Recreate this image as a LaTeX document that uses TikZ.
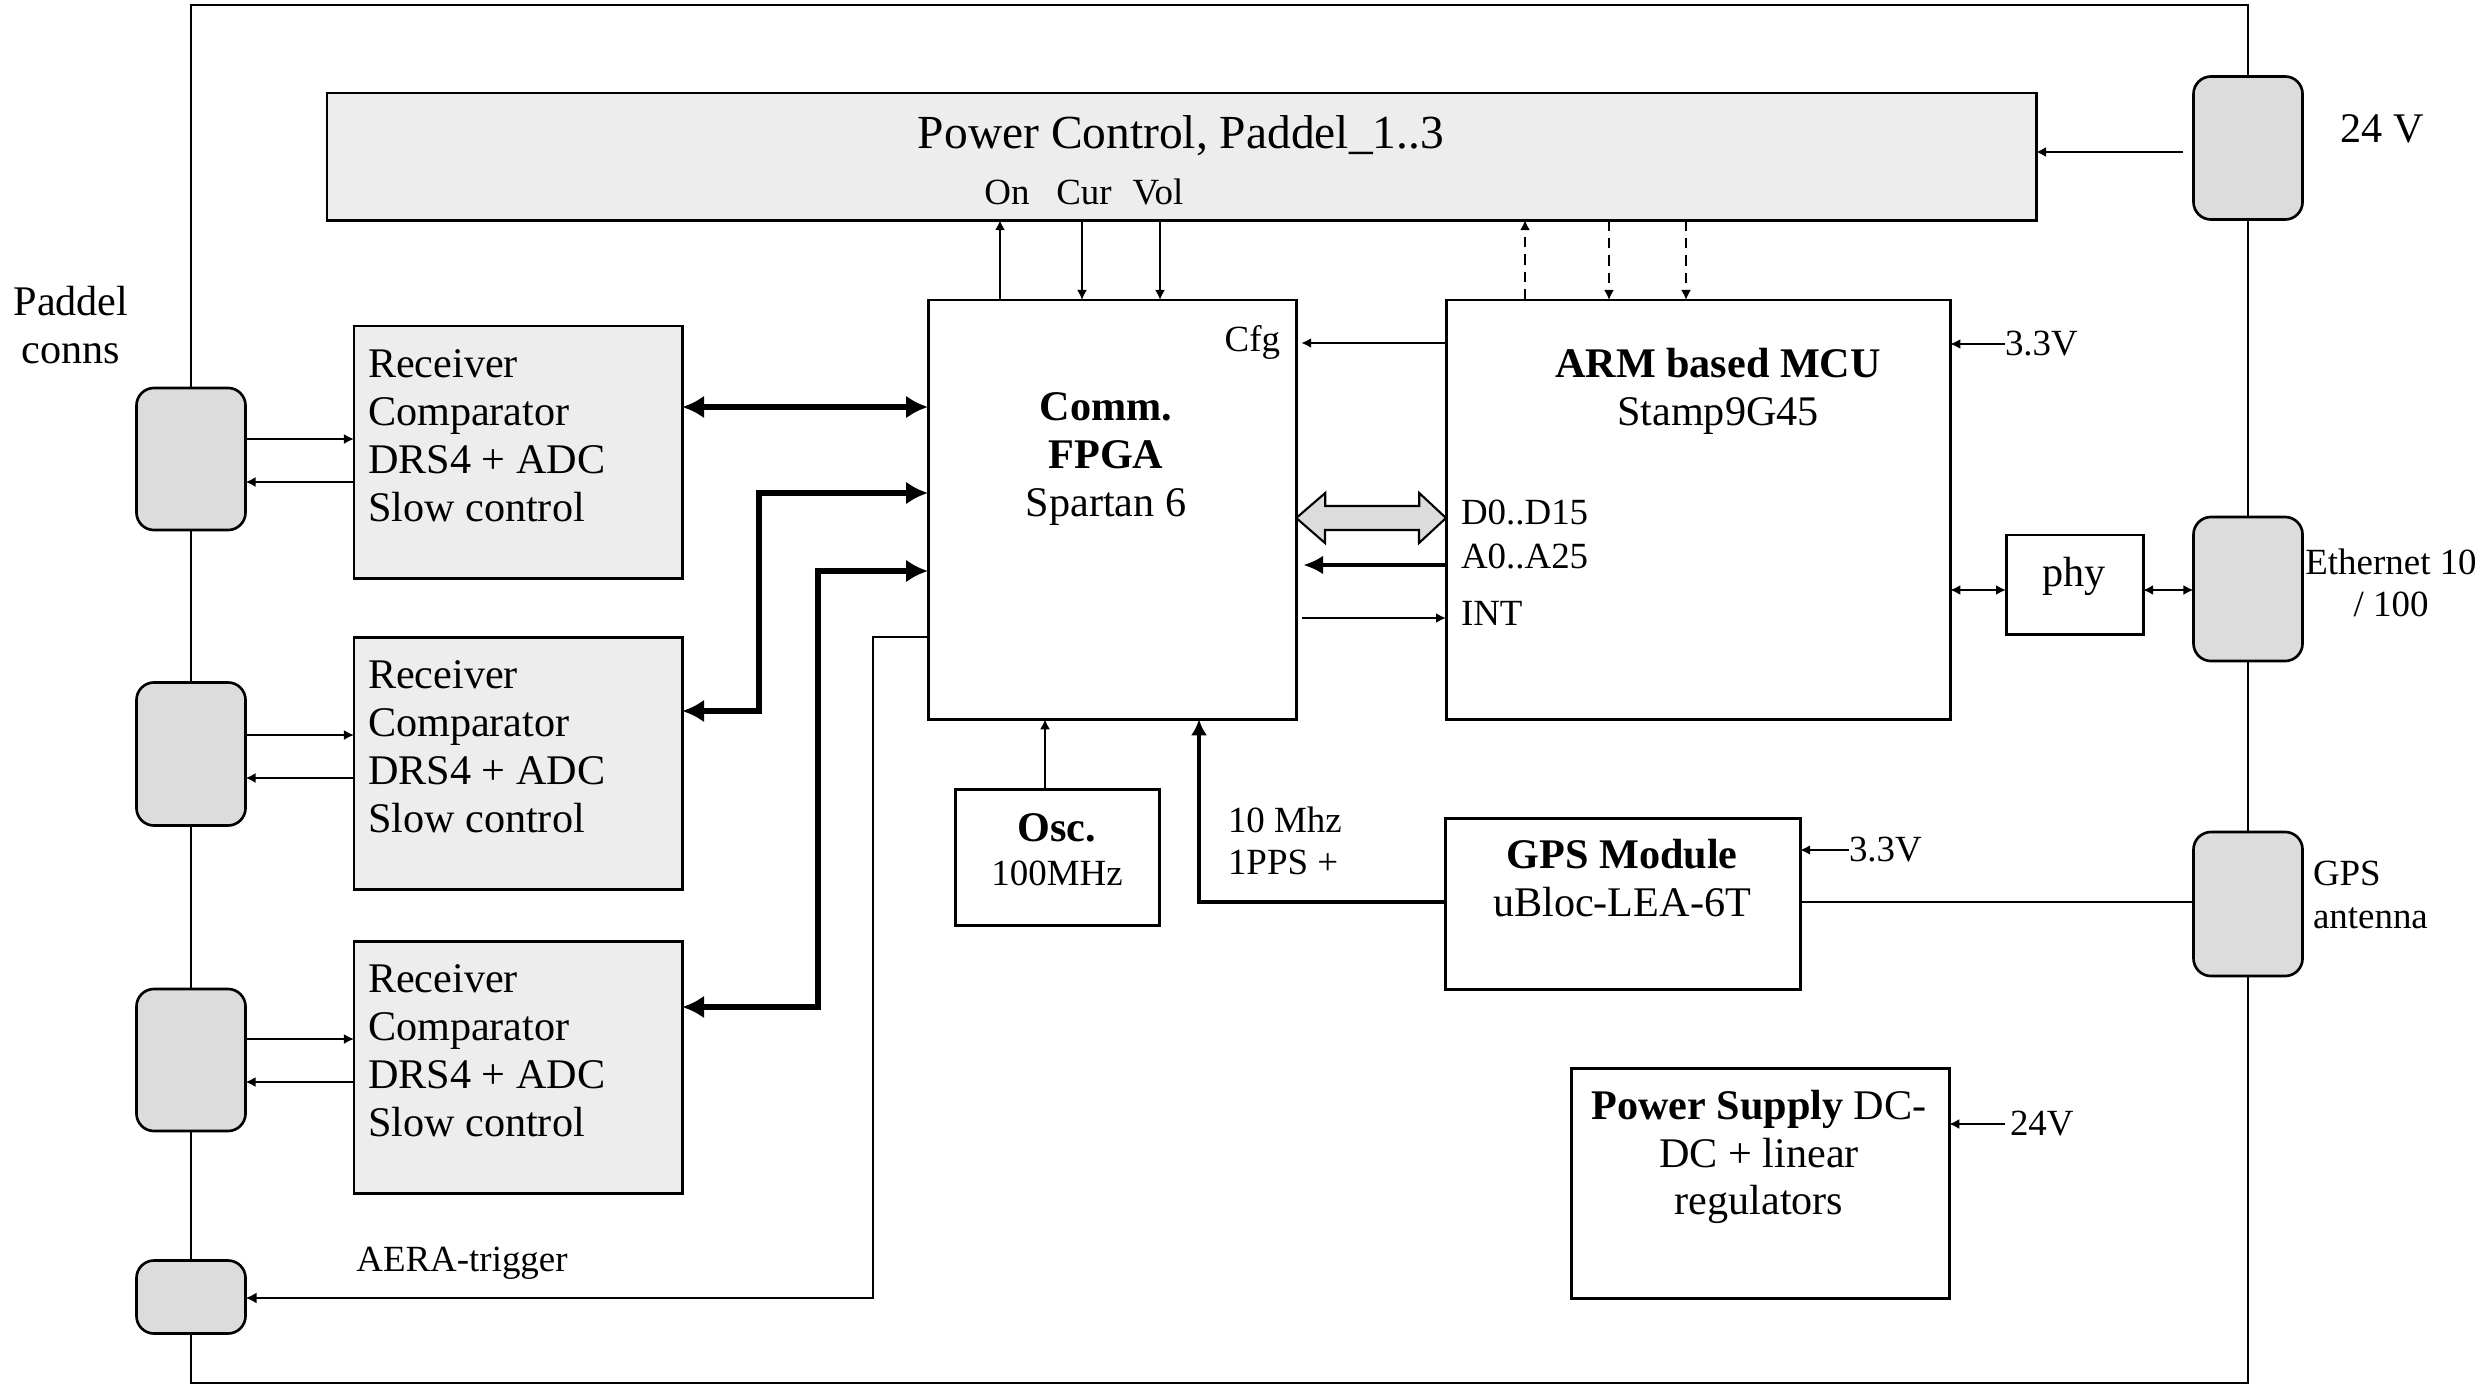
\documentclass[tikz,border=0pt]{standalone}
\usepackage{fontspec}
\setmainfont{Liberation Serif}
\usetikzlibrary{arrows.meta}
\definecolor{boxgrey}{HTML}{EDEDED}
\definecolor{conngrey}{HTML}{DCDCDC}

\begin{document}
\begin{tikzpicture}[x=0.01cm, y=-0.01cm,
  every node/.style={inner sep=0pt, outer sep=0pt},
  box/.style={draw, line width=0.85pt, anchor=north west},
  greybox/.style={box, fill=boxgrey},
  conn/.style={draw, line width=0.75pt, fill=conngrey, rounded corners=5pt, minimum width=1.09cm},
  txt/.style={font=\fontsize{12}{13.6}\selectfont},
  lbl/.style={font=\fontsize{10.5}{12}\selectfont},
  sig/.style={-{Latex[length=1mm,width=1mm]}, line width=0.6pt},
  sigboth/.style={{Latex[length=1mm,width=1mm]}-{Latex[length=1mm,width=1mm]}, line width=0.6pt},
  bus/.style={{Latex[length=2.2mm,width=2.3mm]}-{Latex[length=2.2mm,width=2.3mm]}, line width=1.7pt},
  addr/.style={-{Latex[length=2mm,width=1.9mm]}, line width=1.3pt},
  pps/.style={-{Latex[length=1.6mm,width=1.6mm]}, line width=1.4pt},
  trig/.style={-{Latex[length=1.1mm,width=1.1mm]}, line width=0.8pt},
  wire/.style={line width=0.6pt}]
  \useasboundingbox (0,0) rectangle (2479,1385);

  % Board outline
  \draw[line width=0.6pt] (191,5) rectangle (2248,1383);

  % Power control
  \node[greybox, minimum width=17.08cm, minimum height=1.27cm] (pctrl) at (327,93) {};
  \node[font=\fontsize{13.5}{15}\selectfont] (pctrlT) at (1181,136) {Power Control, Paddel\_1..3};
  \node[lbl] (on) at (1007,192) {On};
  \node[lbl] (cur) at (1084,192) {Cur};
  \node[lbl] (vol) at (1158,192) {Vol};

  % Receiver boards
  \node[greybox, minimum width=3.28cm, minimum height=2.52cm] (rc1) at (354,326) {};
  \node[greybox, minimum width=3.28cm, minimum height=2.52cm] (rc2) at (354,637) {};
  \node[greybox, minimum width=3.28cm, minimum height=2.52cm] (rc3) at (354,941) {};
  \node[txt, anchor=north west, align=left] (rc1T) at (368,350) {Receiver\\Comparator\\DRS4 + ADC\\Slow control};
  \node[txt, anchor=north west, align=left] (rc2T) at (368,661) {Receiver\\Comparator\\DRS4 + ADC\\Slow control};
  \node[txt, anchor=north west, align=left] (rc3T) at (368,965) {Receiver\\Comparator\\DRS4 + ADC\\Slow control};

  % FPGA and MCU
  \node[box, minimum width=3.68cm, minimum height=4.19cm] (fpga) at (928,300) {};
  \node[txt, align=center] (fpgaT) at (1106,459) {\textbf{Comm.}\\\textbf{FPGA}\\Spartan 6};
  \node[lbl, anchor=east] (cfg) at (1280,342) {Cfg};
  \node[box, minimum width=5.04cm, minimum height=4.19cm] (mcu) at (1446,300) {};
  \node[txt, align=center] (mcuT) at (1718,391) {\textbf{ARM based MCU}\\Stamp9G45};
  \node[lbl, anchor=west] (dbusT) at (1461,512) {D0..D15};
  \node[lbl, anchor=west] (abusT) at (1461,556) {A0..A25};
  \node[lbl, anchor=west] (intT) at (1461,613) {INT};
  \node[lbl, anchor=west] (v33m) at (2005,344) {3.3V};
  \node[box, minimum width=1.37cm, minimum height=0.99cm] (phy) at (2006,535) {};
  \node[txt] (phyT) at (2074,576) {phy};

  % Connectors on the right
  \node[conn, minimum height=1.43cm] (c24) at (2248,148) {};
  \node[txt] (c24T) at (2382,129) {24 V};
  \node[conn, minimum height=1.44cm] (ceth) at (2248,589) {};
  \node[lbl, align=center] (cethT) at (2391,583) {Ethernet 10\\/ 100};
  \node[conn, minimum height=1.44cm] (cgps) at (2248,904) {};
  \node[lbl, anchor=west, align=left] (cgpsT) at (2313,895) {GPS\\antenna};

  % Connectors on the left
  \node[txt, align=center] (paddelT) at (71,325) {Paddel\\conns};
  \node[conn, minimum height=1.42cm] (cp1) at (191,459) {};
  \node[conn, minimum height=1.43cm] (cp2) at (191,754) {};
  \node[conn, minimum height=1.42cm] (cp3) at (191,1060) {};
  \node[conn, minimum height=0.73cm] (caera) at (191,1297) {};
  \node[lbl] (aeraT) at (462,1263) {AERA-trigger};

  % Clock, GPS and supply
  \node[box, minimum width=2.04cm, minimum height=1.36cm] (osc) at (955,789) {};
  \node[txt, align=center, font=\fontsize{12}{12.6}\selectfont] (oscT) at (1057,850) {\textbf{Osc.}\\{\fontsize{10.5}{12}\selectfont 100MHz}};
  \node[box, minimum width=3.55cm, minimum height=1.71cm] (gps) at (1445,818) {};
  \node[txt, align=center] (gpsT) at (1622,878) {\textbf{GPS Module}\\uBloc-LEA-6T};
  \node[lbl, anchor=west] (v33g) at (1849,850) {3.3V};
  \node[lbl, anchor=west, align=left] (ppsT) at (1228,841) {10 Mhz\\1PPS +};
  \node[box, minimum width=3.78cm, minimum height=2.30cm] (psu) at (1571,1068) {};
  \node[txt, align=center] (psuT) at (1759,1157) {\textbf{Power Supply} DC-\\DC + linear\\regulators};
  \node[lbl, anchor=west] (v24p) at (2010,1124) {24V};

  % Power control links
  \draw[sig, shorten <=1mm] (c24.west |- 0,152) -- (pctrl.east |- 0,152);
  \draw[sig] (fpga.north -| 1000,0) -- (pctrl.south -| 1000,0);
  \draw[sig] (pctrl.south -| 1082,0) -- (fpga.north -| 1082,0);
  \draw[sig] (pctrl.south -| 1160,0) -- (fpga.north -| 1160,0);
  \draw[sig, dash pattern=on 3pt off 2pt] (mcu.north -| 1525,0) -- (pctrl.south -| 1525,0);
  \draw[sig, dash pattern=on 3pt off 2pt] (pctrl.south -| 1609,0) -- (mcu.north -| 1609,0);
  \draw[sig, dash pattern=on 3pt off 2pt] (pctrl.south -| 1686,0) -- (mcu.north -| 1686,0);

  % Paddel connectors to receivers
  \draw[sig] (cp1.east |- 0,439) -- (rc1.west |- 0,439);
  \draw[sig] (rc1.west |- 0,482) -- (cp1.east |- 0,482);
  \draw[sig] (cp2.east |- 0,735) -- (rc2.west |- 0,735);
  \draw[sig] (rc2.west |- 0,778) -- (cp2.east |- 0,778);
  \draw[sig] (cp3.east |- 0,1039) -- (rc3.west |- 0,1039);
  \draw[sig] (rc3.west |- 0,1082) -- (cp3.east |- 0,1082);

  % Receiver buses
  \draw[bus] (rc1.east |- 0,407) -- (fpga.west |- 0,407);
  \draw[bus] (rc2.east |- 0,711) -- (759,711) -- (759,493) -- (fpga.west |- 0,493);
  \draw[bus] (rc3.east |- 0,1007) -- (818,1007) -- (818,571) -- (fpga.west |- 0,571);

  % Trigger out
  \draw[trig] (fpga.west |- 0,637) -- (873,637) -- (873,1298) -- (caera.east |- 0,1298);

  % FPGA <-> MCU
  \draw[sig, shorten >=0.5mm] (mcu.west |- 0,343) -- (fpga.east |- 0,343);
  \draw[line width=0.6pt, fill=conngrey] (fpga.east |- 0,518) -- ++(29,-25) -- ++(0,13) -- ++(94,0) -- ++(0,-13)
    -- (mcu.west |- 0,518) -- ++(-27,25) -- ++(0,-13) -- ++(-94,0) -- ++(0,13) -- cycle;
  \draw[addr, shorten >=0.7mm] (mcu.west |- 0,565) -- (fpga.east |- 0,565);
  \draw[sig, shorten <=0.6mm] (fpga.east |- 0,618) -- (mcu.west |- 0,618);

  % MCU periphery
  \draw[sigboth] (mcu.east |- 0,590) -- (phy.west |- 0,590);
  \draw[sigboth] (phy.east |- 0,590) -- (ceth.west |- 0,590);
  \draw[sig] (v33m.west) -- (mcu.east |- v33m.west);

  % Clocks, GPS, supply
  \draw[sig] (osc.north -| 1045,0) -- (fpga.south -| 1045,0);
  \draw[pps] (gps.west |- 0,902) -- (1199,902) -- (fpga.south -| 1199,0);
  \draw[wire] (gps.east |- 0,902) -- (cgps.west |- 0,902);
  \draw[sig] (v33g.west) -- (gps.east |- v33g.west);
  \draw[sig, shorten <=0.5mm] (v24p.west) -- (psu.east |- v24p.west);
\end{tikzpicture}
\end{document}
